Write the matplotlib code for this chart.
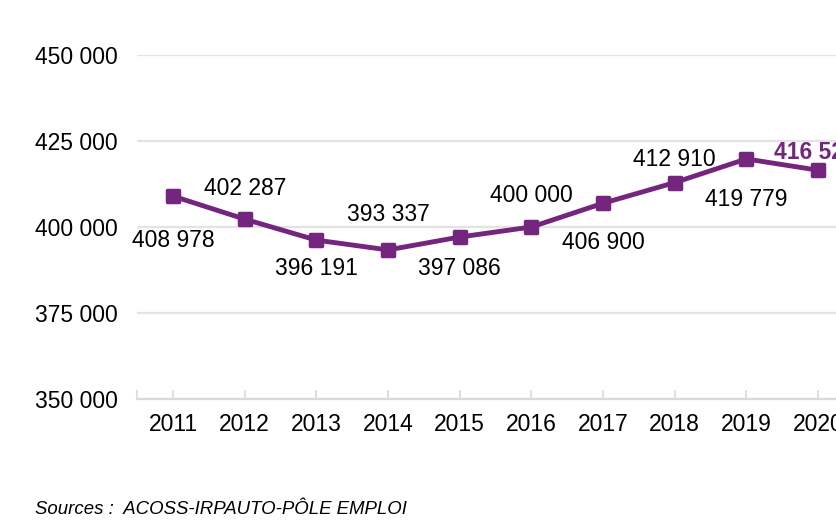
import matplotlib.pyplot as plt
from matplotlib.markers import MarkerStyle

# Data
years = ['2011', '2012', '2013', '2014', '2015', '2016', '2017', '2018', '2019', '2020']
values = [408978, 402287, 396191, 393337, 397086, 400000, 406900, 412910, 419779, 416520]
labels = ['408 978', '402 287', '396 191', '393 337', '397 086', '400 000',
          '406 900', '412 910', '419 779', '416 520']
yticks = [350000, 375000, 400000, 425000, 450000]
ytick_labels = ['350 000', '375 000', '400 000', '425 000', '450 000']

# label offsets in pixels (dx, dy downward) relative to each point
label_offsets = [(0, 44), (0, -31), (0, 28), (0, -35), (0, 31),
                 (0, -31), (0, 39), (0, -23), (0, 41), (-3, -18)]

purple = '#74267f'
plt.rcParams['font.family'] = ['Liberation Sans', 'DejaVu Sans']

fig = plt.figure(figsize=(8.36, 5.2), dpi=100)
ax = fig.add_axes([137.2 / 836, 121 / 520, 716.6 / 836, 344 / 520])

x = list(range(len(years)))
ax.plot(x, values, color=purple, linewidth=3.5, zorder=3,
        marker=MarkerStyle('s', joinstyle='round'), markersize=9,
        markeredgewidth=2.5, markeredgecolor=purple, markerfacecolor=purple)

for i, (v, lab) in enumerate(zip(values, labels)):
    dx, dy = label_offsets[i]
    last = i == len(values) - 1
    ax.annotate(lab, (i, v), xytext=(dx * 0.72, -dy * 0.72), textcoords='offset points',
                ha='center', va='center', fontsize=16.5,
                color=purple if last else 'black',
                fontweight='bold' if last else 'normal', zorder=4)

ax.set_xlim(-0.5, len(years) - 0.5)
ax.set_ylim(350000, 450000)
ax.set_xticks(x)
ax.set_xticklabels(years)
ax.set_xticks([-0.5], minor=True)
ax.set_yticks(yticks)
ax.set_yticklabels(ytick_labels)

ax.grid(axis='y', color='#e3e3e3', linewidth=1.6)
ax.set_axisbelow(True)
for side in ['top', 'right', 'left']:
    ax.spines[side].set_visible(False)
ax.spines['bottom'].set_color('#d9d9d9')
ax.spines['bottom'].set_linewidth(1.6)

ax.tick_params(axis='x', which='both', direction='in', length=6.5, width=1.2,
               color='#d9d9d9', labelsize=16.5, pad=10)
ax.tick_params(axis='y', length=0, labelsize=16.5, pad=14)

fig.text(35 / 836, 1 - 510 / 520, 'Sources :  ACOSS-IRPAUTO-PÔLE EMPLOI',
         fontsize=13.4, style='italic', ha='left', va='center')

fig.savefig('out.png', dpi=100)
